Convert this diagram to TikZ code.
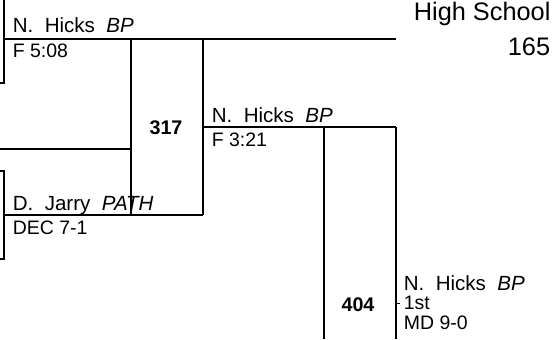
\documentclass[tikz,border=0pt]{standalone}
\usepackage{fontspec}
\setmainfont{Liberation Sans}

\begin{document}
\begin{tikzpicture}[x=0.75pt,y=-0.75pt,line width=1.3pt,
	fencer/.style={anchor=base west,inner sep=0pt,font=\fontsize{15.4}{18}\selectfont},
	result/.style={anchor=base west,inner sep=0pt,font=\fontsize{14.6}{18}\selectfont},
	bout/.style={inner sep=0pt,font=\bfseries\fontsize{14.8}{18}\selectfont}]

\useasboundingbox (0,0) rectangle (556,339);

% header
\node[anchor=base west,inner sep=0pt,font=\fontsize{19}{22}\selectfont]   (school)   at (413,20.7)   {High School};
\node[anchor=base east,inner sep=0pt,font=\fontsize{19}{22}\selectfont]   (weight)   at (551,55)     {165};

% bracket corners
\coordinate (tl0) at (0,83);   \coordinate (tl1) at (4,83);   \coordinate (tl2) at (4,0);
\coordinate (bl0) at (0,171);  \coordinate (bl1) at (4,171);  \coordinate (bl2) at (4,259);  \coordinate (bl3) at (0,259);
\coordinate (w1) at (4,39);    \coordinate (w2) at (396,39);
\coordinate (m1) at (0,149);   \coordinate (m2) at (131,149);
\coordinate (j1) at (4,215);   \coordinate (j2) at (203,215);
\coordinate (p1) at (131,39);  \coordinate (p2) at (131,215);
\coordinate (q1) at (203,39);  \coordinate (q2) at (203,215);
\coordinate (s1) at (203,127); \coordinate (s2) at (396,127);
\coordinate (r1) at (324,127); \coordinate (r2) at (324,339);
\coordinate (u1) at (396,127); \coordinate (u2) at (396,339);
\coordinate (k1) at (396,303); \coordinate (k2) at (400,303);

% round of 32
\node[fencer]   (hicks1)   at (12,32)    {N.\ \ Hicks\ \ \textit{BP}};
\node[result]   (res1)     at (12,57)    {F 5:08};
\node[fencer]   (jarry)    at (12,210)   {D.\ \ Jarry\ \ \textit{PATH}};
\node[result]   (res2)     at (12,234)   {DEC 7-1};

% round of 16
\node[bout]     (b317)     at (166,128)  {317};
\node[fencer]   (hicks2)   at (211,122)  {N.\ \ Hicks\ \ \textit{BP}};
\node[result]   (res3)     at (211,146)  {F 3:21};

% final
\node[bout]     (b404)     at (358,305)  {404};
\node[fencer]   (hicks3)   at (403,290)  {N.\ \ Hicks\ \ \textit{BP}};
\node[result]   (place)    at (403,309)  {1st};
\node[result]   (res4)     at (403,329)  {MD 9-0};

	\draw (tl0) -- (tl1) -- (tl2);
	\draw (bl0) -- (bl1) -- (bl2) -- (bl3);
	\draw (w1) -- (w2);
	\draw (m1) -- (m2);
	\draw (j1) -- (j2);
	\draw (p1) -- (p2);
	\draw (q1) -- (q2);
	\draw (s1) -- (s2);
	\draw (r1) -- (r2);
	\draw (u1) -- (u2);
	\draw[line width=0.6pt] (k1) -- (k2);

\end{tikzpicture}
\end{document}
